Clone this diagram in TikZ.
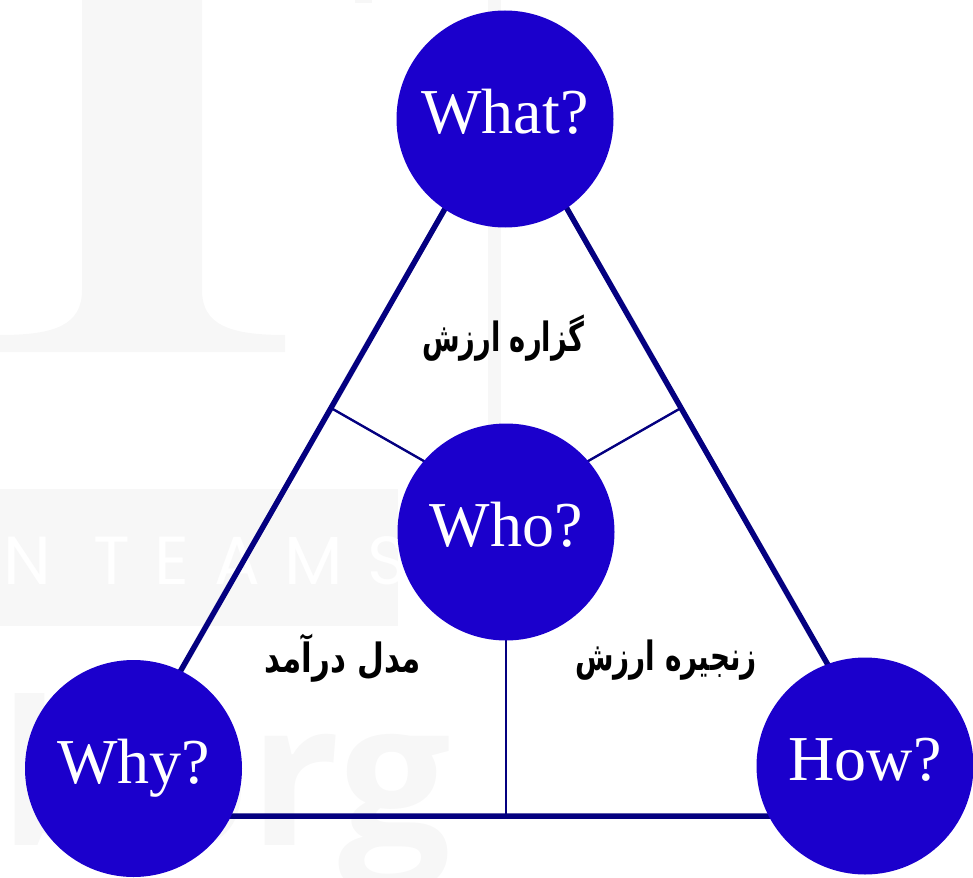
\documentclass[tikz,border=0pt]{standalone}
\usepackage{fontspec}
\usepackage{graphicx}
\setmainfont{Liberation Serif}
\newfontfamily\fa[Script=Arabic]{DejaVu Sans}
\newfontfamily\wmfont[LetterSpace=36]{Poppins}
\newfontfamily\wmbig{Open Sans}
\TeXXeTstate=1
\definecolor{discblue}{RGB}{27,0,204}
\definecolor{edgeblue}{RGB}{4,0,128}
\definecolor{wmgrey}{RGB}{247,247,247}
\begin{document}
\begin{tikzpicture}[x=1pt,y=-1pt,
  disc/.style={circle,fill=discblue,minimum size=217pt,inner sep=0pt,text=white,
    font=\fontsize{64}{64}\selectfont,text height=43pt,text depth=14pt},
  thickedge/.style={draw=edgeblue,line width=5.5pt},
  thinedge/.style={draw=edgeblue,line width=2.4pt},
  lbl/.style={font=\fa\bfseries\fontsize{31}{36}\selectfont,text=black,inner sep=0pt}]
\useasboundingbox (0,0) rectangle (973,877);
% faint watermark
\fill[wmgrey] (82,0) -- (202,0) -- (202,290) .. controls (202,325) and (230,335) .. (285,335)
  -- (285,352) -- (0,352) -- (0,335) .. controls (55,335) and (82,325) .. (82,290) -- cycle;
\fill[wmgrey] (355,0) rectangle (372,3);
\fill[wmgrey] (488,0) rectangle (501,440);
\fill[wmgrey] (0,489) rectangle (398,626);
\node[anchor=base west,inner sep=0pt,text=white,font=\wmfont\fontsize{68}{68}\selectfont] (wmteams) at (3,584) {N TEAMS};
\node[anchor=base east,inner sep=0pt,text=wmgrey,font=\wmbig\bfseries\fontsize{200}{200}\selectfont] (wmorg) at (452,845) {borg};
% triangle
\coordinate (T) at (506,102);
\coordinate (L) at (97.6,816);
\coordinate (R) at (914.4,816);
\coordinate (C) at (506,508);
\coordinate (FL) at (331,408);
\coordinate (FR) at (681,408);
\coordinate (FB) at (506,816);
\draw[thickedge] (T) -- (L) -- (R) -- cycle;
\draw[thinedge] (C) -- (FL);
\draw[thinedge] (C) -- (FR);
\draw[thinedge] (C) -- (FB);
% discs
\node[disc] (what) at (505,119) {What?};
\node[disc] (who) at (506,532) {Who?};
\node[disc] (why) at (133.5,768.5) {Why?};
\node[disc] (how) at (865,766) {How?};
% labels
\node[lbl] (value) at (503,338) {\scalebox{0.88}[1.3]{\beginR گزاره ارزش\endR}};
\node[lbl] (revenue) at (343,658) {\scalebox{1.0}[1.3]{\beginR مدل درآمد\endR}};
\node[lbl] (chain) at (666,660) {\scalebox{0.9}[1.3]{\beginR زنجیره ارزش\endR}};
\end{tikzpicture}
\end{document}
